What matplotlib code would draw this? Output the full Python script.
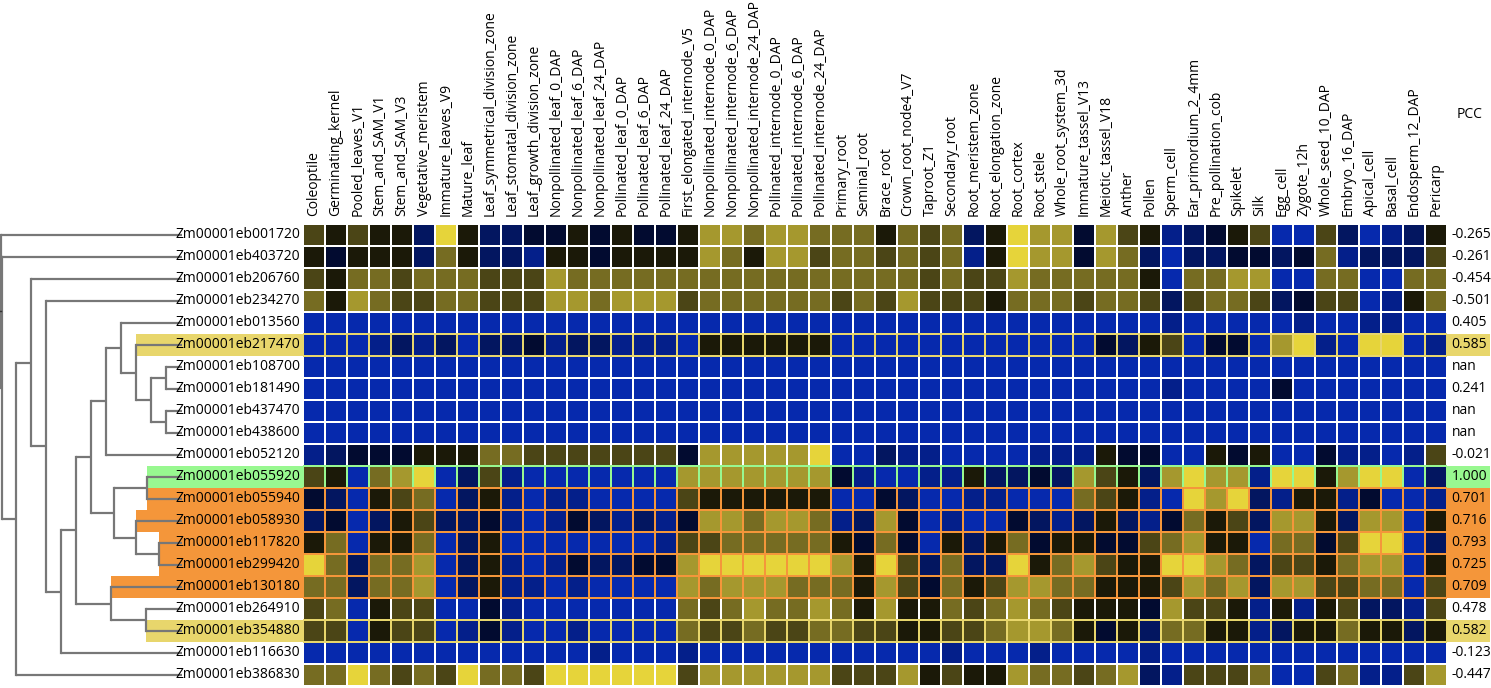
import numpy as np
import matplotlib
matplotlib.use('Agg')
import matplotlib.pyplot as plt
from matplotlib.colors import LinearSegmentedColormap
from matplotlib.patches import Rectangle

plt.rcParams['font.family'] = ['Open Sans', 'DejaVu Sans']

tissues = ['Coleoptile', 'Germinating_kernel', 'Pooled_leaves_V1', 'Stem_and_SAM_V1', 'Stem_and_SAM_V3',
           'Vegetative_meristem', 'Immature_leaves_V9', 'Mature_leaf', 'Leaf_symmetrical_division_zone',
           'Leaf_stomatal_division_zone', 'Leaf_growth_division_zone', 'Nonpollinated_leaf_0_DAP',
           'Nonpollinated_leaf_6_DAP', 'Nonpollinated_leaf_24_DAP', 'Pollinated_leaf_0_DAP',
           'Pollinated_leaf_6_DAP', 'Pollinated_leaf_24_DAP', 'First_elongated_internode_V5',
           'Nonpollinated_internode_0_DAP', 'Nonpollinated_internode_6_DAP', 'Nonpollinated_internode_24_DAP',
           'Pollinated_internode_0_DAP', 'Pollinated_internode_6_DAP', 'Pollinated_internode_24_DAP',
           'Primary_root', 'Seminal_root', 'Brace_root', 'Crown_root_node4_V7', 'Taproot_Z1', 'Secondary_root',
           'Root_meristem_zone', 'Root_elongation_zone', 'Root_cortex', 'Root_stele', 'Whole_root_system_3d',
           'Immature_tassel_V13', 'Meiotic_tassel_V18', 'Anther', 'Pollen', 'Sperm_cell', 'Ear_primordium_2_4mm',
           'Pre_pollination_cob', 'Spikelet', 'Silk', 'Egg_cell', 'Zygote_12h', 'Whole_seed_10_DAP',
           'Embryo_16_DAP', 'Apical_cell', 'Basal_cell', 'Endosperm_12_DAP', 'Pericarp']

genes = ['Zm00001eb001720', 'Zm00001eb403720', 'Zm00001eb206760', 'Zm00001eb234270', 'Zm00001eb013560',
         'Zm00001eb217470', 'Zm00001eb108700', 'Zm00001eb181490', 'Zm00001eb437470', 'Zm00001eb438600',
         'Zm00001eb052120', 'Zm00001eb055920', 'Zm00001eb055940', 'Zm00001eb058930', 'Zm00001eb117820',
         'Zm00001eb299420', 'Zm00001eb130180', 'Zm00001eb264910', 'Zm00001eb354880', 'Zm00001eb116630',
         'Zm00001eb386830']

pcc = ['-0.265', '-0.261', '-0.454', '-0.501', '0.405', '0.585', 'nan', '0.241', 'nan', 'nan', '-0.021',
       '1.000', '0.701', '0.716', '0.793', '0.725', '0.709', '0.478', '0.582', '-0.123', '-0.447']

# expression level, 0 = low (blue) .. 4 = mid (black) .. 8 = high (yellow)
levels = [
    '5454428422334' '3433477677666' '4656248773754' '1234500520124',
    '4344426422144' '3444476477566' '5656148773762' '0223323612225',
    '5466566655576' '6666666666666' '6656557666664' '0667700660066',
    '6476556655577' '6777566666656' '5755546665665' '2566523550146',
    '0000000000000' '0000000000000' '0000000000000' '1000001001100',
    '0001212022312' '2111044444400' '0000000000324' '5033078108801',
    '0000000000000' '0000000000000' '0000000000000' '0000000000000',
    '0000000000000' '0000000000000' '0000000000000' '1000030000000',
    '0000000000000' '0000000000000' '0000000000000' '0000000000000',
    '0000000000000' '0000000000000' '0000000000000' '0000000000000',
    '1233344466555' '5555377777800' '2110000111433' '0043400311015',
    '5406780251000' '0000777777731' '0011422327542' '7877188478802',
    '3204560241011' '0000544444400' '3200110006541' '0878214413001',
    '2302452231013' '2121377677612' '7301003212421' '3645277427704',
    '4604460240000' '0001556666643' '6304246344335' '6744066358802',
    '8626670241013' '2233788888874' '8526228467544' '8876255467704',
    '6626670241101' '0000767776664' '7536457766444' '5767277556605',
    '5604550031000' '0000656766764' '7446567654443' '7554141452215',
    '5504550131001' '0000655655665' '5445567764342' '6644124464424',
    '0000000000000' '1000100000000' '0001000100001' '0000000000000',
    '6686565866588' '8888577777755' '5745447665672' '1555600561157',
]
expr = np.array([[int(c) for c in row] for row in levels], dtype=float)

# dendrogram merges: (name, left, right, height); ints are rows, strings are clusters
merges = [
    ('c12', 6, 7, 16), ('c13', 8, 9, 16), ('c11', 'c12', 'c13', 31), ('c10', 5, 'c11', 46),
    ('c9', 4, 'c10', 61), ('c7', 'c9', 10, 76), ('c14', 11, 12, 35), ('c16', 14, 15, 23),
    ('c15', 13, 'c16', 46), ('c8', 'c14', 'c15', 68), ('c5', 'c7', 'c8', 91), ('c17', 17, 18, 36),
    ('c6', 16, 'c17', 71), ('c4', 'c5', 'c6', 106), ('c3', 'c4', 19, 121), ('c2', 3, 'c3', 136),
    ('c1', 2, 'c2', 151), ('rest', 'c1', 20, 166), ('c0', 1, 'rest', 180.5), ('root', 0, 'c0', 181),
]

# highlighted rows: row -> colour
highlight = {5: '#e8d66c', 11: '#98f890', 12: '#f4963a', 13: '#f4963a', 14: '#f4963a',
             15: '#f4963a', 16: '#f4963a', 18: '#e8d66c'}

level_colors = ['#0629ad', '#041f8a', '#031660', '#020b30', '#1a1808',
                '#4a4416', '#756b22', '#a3962e', '#e6d43a']
cmap = LinearSegmentedColormap.from_list('byk', level_colors)

W, H = 1491, 688
fig = plt.figure(figsize=(W / 100, H / 100), dpi=100)
n_rows, n_cols = expr.shape
top, bottom = 224, 686

# heatmap
ax = fig.add_axes([303 / W, (H - bottom) / H, 1144 / W, (bottom - top) / H])
ax.pcolormesh(np.arange(n_cols + 1), np.arange(n_rows + 1), expr, cmap=cmap, vmin=0, vmax=8,
              edgecolors='white', linewidth=1.3)
for r, col in highlight.items():
    ax.pcolormesh(np.arange(n_cols + 1), [r, r + 1], expr[r:r + 1], cmap=cmap, vmin=0, vmax=8,
                  edgecolors=col, linewidth=1.3)
ax.set_xlim(0, n_cols)
ax.set_ylim(n_rows, 0)
ax.set_xticks(np.arange(n_cols) + 0.5)
ax.set_xticklabels(tissues, rotation=90, fontsize=10)
ax.xaxis.tick_top()
ax.tick_params(length=0, pad=6)
ax.set_yticks([])
for s in ax.spines.values():
    s.set_visible(False)

# PCC column
for r, v in enumerate(pcc):
    if r in highlight:
        ax.add_patch(Rectangle((n_cols, r), 1.95, 1, color=highlight[r], clip_on=False, lw=0))
    ax.text(n_cols + 0.2, r + 0.5, v, va='center', ha='left', fontsize=10, clip_on=False)
ax.text(n_cols + 0.45, -5.0, 'PCC', va='center', ha='left', fontsize=10, clip_on=False)

# dendrogram
dax = fig.add_axes([0, (H - bottom) / H, 303 / W, (bottom - top) / H])
dax.set_xlim(182, 182 - 303)
dax.set_ylim(n_rows, 0)
dax.axis('off')
pos = {i: (i + 0.5, 0.0) for i in range(n_rows)}
parent_h = {}
for name, a, b, h in merges:
    for child in (a, b):
        y, ch = pos[child]
        dax.plot([ch, h], [y, y], color='#777777', lw=1.6, solid_capstyle='butt')
        if isinstance(child, int):
            parent_h[child] = h
    dax.plot([h, h], [pos[a][0], pos[b][0]], color='#777777', lw=1.6)
    pos[name] = ((pos[a][0] + pos[b][0]) / 2, h)
dax.plot([181, 182], [pos['root'][0]] * 2, color='#333333', lw=1)

for r, col in highlight.items():
    dax.add_patch(Rectangle((parent_h[r], r), -121 - parent_h[r], 1, color=col, lw=0, zorder=0))
for r, g in enumerate(genes):
    dax.text(-118, r + 0.5, g, ha='right', va='center', fontsize=10, zorder=3)

fig.savefig('out.png', dpi=100)
